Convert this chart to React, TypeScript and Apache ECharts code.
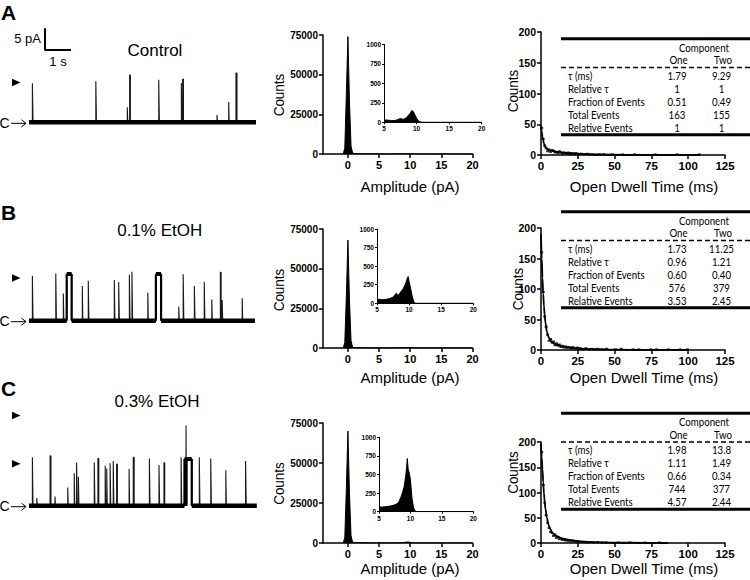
import React, { useEffect, useRef } from "react";
import * as echarts from "echarts";

// ---------------- DATA ----------------
// Single-channel events: [start time (s), amplitude (pA), duration (s)]
const eventsControl = [
  [0.13, 9.0, 0.025], [2.57, 9.5, 0.025], [3.78, 3.5, 0.02], [3.87, 10.9, 0.03],
  [4.99, 9.8, 0.025], [5.86, 9.1, 0.02], [5.91, 10.0, 0.03], [7.23, 1.7, 0.02],
  [7.68, 4.7, 0.02], [7.96, 11.4, 0.04],
];
const eventsEtOH01 = [
  [0.13, 10.4, 0.025], [1.03, 10.9, 0.025], [1.32, 6.3, 0.02], [2.05, 8.0, 0.02],
  [2.28, 9.2, 0.025], [3.28, 9.4, 0.025], [3.45, 8.9, 0.025], [3.86, 10.6, 0.025],
  [3.96, 11.3, 0.025], [4.57, 6.5, 0.02], [5.76, 3.2, 0.02], [5.93, 10.7, 0.025],
  [6.36, 8.0, 0.025], [6.74, 9.0, 0.025], [7.03, 4.9, 0.02], [7.36, 11.2, 0.03],
  [7.43, 4.8, 0.02], [8.2, 5.2, 0.02],
];
const eventsEtOH03 = [
  [0.13, 11.2, 0.025], [0.3, 1.8, 0.02], [0.81, 11.5, 0.035], [1.0, 2.1, 0.02],
  [1.49, 4.2, 0.02], [1.74, 7.5, 0.02], [1.83, 10.0, 0.025], [1.9, 6.7, 0.02],
  [2.51, 10.0, 0.025], [2.65, 10.9, 0.035], [2.93, 9.2, 0.02], [2.99, 8.6, 0.02],
  [3.12, 9.8, 0.025], [3.24, 10.3, 0.025], [3.37, 9.6, 0.03], [3.85, 8.5, 0.02],
  [4.01, 11.2, 0.035], [4.63, 10.9, 0.025], [5.0, 9.4, 0.025], [5.19, 9.9, 0.03],
  [5.85, 11.2, 0.025], [6.04, 18.5, 0.015], [6.55, 11.2, 0.025], [6.99, 10.9, 0.025],
  [7.57, 8.2, 0.02], [8.33, 10.3, 0.025],
];
// Long bursts at the open level: [start (s), amplitude (pA), duration (s)]
const burstsControl: number[][] = [];
const burstsEtOH01 = [[1.45, 10.8, 0.19], [4.88, 10.8, 0.2]];
const burstsEtOH03 = [[5.98, 10.8, 0.055], [6.06, 10.8, 0.2]];
const traceEnds = [8.73, 8.69, 8.76];

// All-points amplitude histograms: [amplitude (pA), counts]
const ampControl = [
  [-0.75, 0], [-0.5, 4000], [-0.25, 38000], [0, 74000], [0.25, 33000], [0.5, 5000], [0.75, 700],
  [1, 250], [2, 90], [3, 60], [4, 45], [5, 30], [5.5, 28], [6, 24], [6.5, 22], [7, 30],
  [7.5, 48], [7.75, 42], [8, 38], [8.5, 62], [8.75, 90], [9, 112], [9.25, 150], [9.5, 138],
  [9.75, 95], [10, 52], [10.25, 24], [10.5, 8], [10.75, 2], [11, 0], [20, 0],
];
const ampEtOH01 = [
  [-0.75, 0], [-0.5, 3500], [-0.25, 33000], [0, 68000], [0.25, 30000], [0.5, 4500], [0.75, 600],
  [1, 250], [2, 110], [3, 80], [4, 65], [5, 55], [5.5, 52], [6, 50], [6.5, 55], [7, 65],
  [7.5, 82], [7.75, 110], [8, 135], [8.25, 105], [8.5, 128], [8.75, 160], [9, 185], [9.25, 225],
  [9.5, 275], [9.75, 345], [9.85, 360], [10, 295], [10.25, 195], [10.5, 90], [10.75, 15], [11, 0], [20, 0],
];
const ampEtOH03 = [
  [-0.75, 0], [-0.5, 3500], [-0.25, 34000], [0, 70000], [0.25, 31000], [0.5, 4500], [0.75, 600],
  [1, 260], [2, 120], [3, 90], [4, 75], [5, 65], [5.5, 62], [6, 67], [6.5, 72], [7, 80],
  [7.5, 92], [8, 112], [8.25, 150], [8.5, 200], [8.75, 262], [9, 338], [9.25, 480], [9.4, 600],
  [9.5, 715], [9.65, 560], [9.8, 530], [10, 430], [10.25, 180], [10.5, 50], [10.75, 10], [11, 0], [20, 0],
];

// Open dwell-time histograms: [time (ms), counts]
const dwellControl = [
  [0.5, 44], [1.5, 26], [2.5, 15], [3.5, 11], [4.5, 6], [5.5, 9], [6.5, 5], [7.5, 8], [8.5, 7],
  [9.5, 4], [10.5, 5], [11.5, 3], [12.5, 6], [13.5, 4], [14.5, 2], [15.5, 4], [16.5, 3], [17.5, 2],
  [18.5, 4], [19.5, 1], [20.5, 3], [21.5, 2], [22.5, 1], [23.5, 3], [24.5, 2], [25.5, 1], [27.5, 2],
  [29.5, 1], [31.5, 2], [33.5, 1], [35.5, 1], [37.5, 0], [39.5, 1], [42.5, 1], [45.5, 0], [48.5, 1],
  [51.5, 0], [55.5, 1], [59.5, 0], [63.5, 1], [67.5, 0], [72.5, 0], [77.5, 1], [82.5, 0], [87.5, 0],
  [92.5, 1], [97.5, 0], [102.5, 0], [107.5, 1],
];
const dwellEtOH01 = [
  [0.5, 160], [1.5, 95], [2.5, 55], [3.5, 38], [4.5, 25], [5.5, 15], [6.5, 18], [7.5, 12], [8.5, 14],
  [9.5, 8], [10.5, 11], [11.5, 7], [12.5, 9], [13.5, 5], [14.5, 7], [15.5, 4], [16.5, 6], [17.5, 3],
  [18.5, 5], [19.5, 4], [20.5, 2], [21.5, 5], [22.5, 3], [23.5, 2], [24.5, 4], [25.5, 2], [26.5, 3],
  [28.5, 1], [30.5, 3], [32.5, 1], [34.5, 2], [36.5, 1], [38.5, 2], [41.5, 1], [44.5, 2], [47.5, 0],
  [50.5, 1], [54.5, 2], [58.5, 0], [62.5, 1], [66.5, 1], [70.5, 0], [74.5, 1], [78.5, 1], [82.5, 0],
  [86.5, 1], [90.5, 0], [94.5, 1], [99.5, 1],
];
const dwellEtOH03 = [
  [0.5, 180], [1.5, 115], [2.5, 80], [3.5, 55], [4.5, 40], [5.5, 30], [6.5, 22], [7.5, 20], [8.5, 14],
  [9.5, 17], [10.5, 10], [11.5, 12], [12.5, 8], [13.5, 9], [14.5, 6], [15.5, 7], [16.5, 5], [17.5, 6],
  [18.5, 4], [19.5, 6], [20.5, 3], [21.5, 5], [22.5, 3], [23.5, 4], [24.5, 2], [25.5, 3], [27.5, 2],
  [29.5, 2], [31.5, 1], [33.5, 2], [35.5, 1], [38.5, 2], [41.5, 1], [44.5, 1], [48.5, 0], [52.5, 1],
  [56.5, 0], [60.5, 1], [65.5, 0], [70.5, 1], [75.5, 0], [80.5, 1], [85.5, 0],
];
// Two-exponential fits: [time (ms), counts]
const fitControl = [
  [0, 48], [0.5, 38], [1, 30], [1.5, 24], [2, 19], [3, 13], [4, 10], [5, 8.5], [7, 7], [10, 5.5],
  [15, 4], [20, 3], [30, 1.5], [40, 0.8], [60, 0.2], [80, 0], [108, 0],
];
const fitEtOH01 = [
  [0, 190], [0.5, 150], [1, 118], [1.5, 92], [2, 72], [2.5, 57], [3, 45], [4, 30], [5, 22], [6, 17],
  [8, 12], [10, 9], [15, 5.5], [20, 3.8], [25, 2.6], [35, 1.2], [50, 0.5], [75, 0.1], [100, 0],
];
const fitEtOH03 = [
  [0, 197], [0.5, 170], [1, 146], [1.5, 120], [2, 98], [2.5, 82], [3, 68], [4, 50], [5, 37], [6, 29],
  [8, 19], [10, 14], [15, 8.5], [20, 5.5], [25, 3.8], [35, 1.8], [50, 0.7], [70, 0.2], [85, 0],
];

// Tables
const tableRows = ["τ (ms)", "Relative τ", "Fraction of Events", "Total Events", "Relative Events"];
const oneControl = ["1.79", "1", "0.51", "163", "1"];
const twoControl = ["9.29", "1", "0.49", "155", "1"];
const oneEtOH01 = ["1.73", "0.96", "0.60", "576", "3.53"];
const twoEtOH01 = ["11.25", "1.21", "0.40", "379", "2.45"];
const oneEtOH03 = ["1.98", "1.11", "0.66", "744", "4.57"];
const twoEtOH03 = ["13.8", "1.49", "0.34", "377", "2.44"];

const conditions = ["Control", "0.1% EtOH", "0.3% EtOH"];
const panelLetters = ["A", "B", "C"];
const histTicks = [0, 5, 10, 15, 20];
const scaleBarAmp = 5; // pA
const scaleBarTime = 1; // s

// ---------------- LAYOUT ----------------
const ARIAL = '"Liberation Sans", Arial, sans-serif';
const CALIBRI = 'Lato, "Noto Sans", "DejaVu Sans", sans-serif';
const TFONT = `10.5px ${CALIBRI}`;
const baselines = [122.3, 320.7, 505.7];
const histTop = [35, 229, 423];
const histH = [119, 119, 120];
const insetBox = [
  { left: 384, top: 44.3, width: 97.7, height: 78 },
  { left: 377, top: 229, width: 96.3, height: 74.3 },
  { left: 379, top: 437.3, width: 94.3, height: 74.4 },
];
const dwellTop = [32, 228, 442];
const dwellH = [123, 122, 101];
const tableTop = [38.8, 211.7, 413.3];
const titleY = [50, 230, 401.7];
const titleX = [155, 159.7, 157];
const letterY = [12, 212.5, 388.5];
const nameY = [186, 377, 568];
const histCountsPos = [[279, 95], [278.5, 290], [278.5, 483.5]];
const dwellCountsPos = [[512.5, 91], [517.5, 289], [512.5, 472.5]];

function measureWidth(text: string, font: string) {
  const ctx = document.createElement("canvas").getContext("2d");
  if (!ctx) return 0;
  ctx.font = font;
  return ctx.measureText(text).width;
}

function buildTrace(events: number[][], bursts: number[][], tEnd: number) {
  const all = [...events, ...bursts].sort((a, b) => a[0] - b[0]);
  const pts: number[][] = [[0, 0]];
  for (const [t, a, d] of all) pts.push([t, 0], [t, a], [t + d, a], [t + d, 0]);
  pts.push([tEnd, 0]);
  return pts;
}
// noisy (thick) segments: closed baseline between bursts, and each burst's open level + edges
function bandSegments(bursts: number[][], tEnd: number) {
  const segs: { pts: number[][]; w: number }[] = [];
  let s = 0;
  for (const [t, a, d] of [...bursts].sort((x, y) => x[0] - y[0])) {
    if (t > s) segs.push({ pts: [[s, 0], [t, 0]], w: 4.5 });
    segs.push({ pts: [[t, a], [t + d, a]], w: 4 });
    segs.push({ pts: [[t, 0], [t, a]], w: 2.2 });
    segs.push({ pts: [[t + d, 0], [t + d, a]], w: 2.2 });
    s = t + d;
  }
  segs.push({ pts: [[s, 0], [tEnd, 0]], w: 4.5 });
  return segs;
}

function buildOption() {
  const events = [eventsControl, eventsEtOH01, eventsEtOH03];
  const bursts = [burstsControl, burstsEtOH01, burstsEtOH03];
  const amps = [ampControl, ampEtOH01, ampEtOH03];
  const dwells = [dwellControl, dwellEtOH01, dwellEtOH03];
  const fits = [fitControl, fitEtOH01, fitEtOH03];
  const ones = [oneControl, oneEtOH01, oneEtOH03];
  const twos = [twoControl, twoEtOH01, twoEtOH03];

  const pxPerPA = 4.33;
  const grid: any[] = [];
  const xAxis: any[] = [];
  const yAxis: any[] = [];
  const series: any[] = [];
  const graphic: any[] = [];

  const axisCommon = (gi: number, lw: number, tickLen: number) => ({
    gridIndex: gi,
    type: "value",
    splitLine: { show: false },
    axisLine: { show: true, onZero: false, lineStyle: { color: "#000", width: lw } },
    axisTick: { show: true, length: tickLen, lineStyle: { color: "#000", width: lw } },
  });
  const lbl = (size: number, margin: number) => ({
    color: "#000", fontFamily: ARIAL, fontWeight: "bold", fontSize: size, margin,
    formatter: (v: number) => String(v),
  });

  // traces: grid 0..2
  for (let i = 0; i < 3; i++) {
    grid.push({ left: 29, top: baselines[i] - 23.5 * pxPerPA, width: 227.5, height: 25.5 * pxPerPA });
    xAxis.push({ gridIndex: i, type: "value", min: 0, max: 8.75, show: false });
    yAxis.push({ gridIndex: i, type: "value", min: -2, max: 23.5, show: false });
    series.push({
      type: "line", xAxisIndex: i, yAxisIndex: i, data: buildTrace(events[i], bursts[i], traceEnds[i]),
      showSymbol: false, symbol: "none", lineStyle: { color: "#1a1a1a", width: 1.1 }, silent: true,
    });
    for (const seg of bandSegments(bursts[i], traceEnds[i])) {
      series.push({
        type: "line", xAxisIndex: i, yAxisIndex: i, data: seg.pts, symbol: "none",
        lineStyle: { color: "#000", width: seg.w }, silent: true,
      });
    }
  }
  // scale bar in trace A coordinates
  const sbT = 0.615, sbA = 16.7;
  series.push({
    type: "line", xAxisIndex: 0, yAxisIndex: 0, symbol: "none", silent: true,
    data: [[sbT, sbA + scaleBarAmp], [sbT, sbA], [sbT + scaleBarTime, sbA]],
    lineStyle: { color: "#000", width: 2 },
  });

  // main amplitude histograms: grid 3..5
  for (let i = 0; i < 3; i++) {
    const gi = 3 + i;
    grid.push({ left: 323, top: histTop[i], width: 149.5, height: histH[i] });
    xAxis.push({
      ...axisCommon(gi, 1.5, 4), min: -4, max: 20,
      axisTick: { show: true, length: 4, customValues: histTicks, lineStyle: { color: "#000", width: 1.5 } },
      axisLabel: { ...lbl(11, 5), customValues: histTicks },
    });
    yAxis.push({ ...axisCommon(gi, 1.5, 4), min: 0, max: 75000, interval: 25000, axisLabel: lbl(10, 5) });
    series.push({
      type: "line", xAxisIndex: gi, yAxisIndex: gi, data: amps[i], symbol: "none",
      lineStyle: { color: "#000", width: 1 }, areaStyle: { color: "#000", opacity: 1 }, silent: true,
    });
  }
  // insets: grid 6..8
  for (let i = 0; i < 3; i++) {
    const gi = 6 + i;
    grid.push(insetBox[i]);
    xAxis.push({ ...axisCommon(gi, 1, 2), min: 5, max: 20, interval: 5, axisLabel: lbl(6.5, 3) });
    yAxis.push({ ...axisCommon(gi, 1, 2), min: 0, max: 1000, interval: 250, axisLabel: lbl(6.5, 3) });
    series.push({
      type: "line", xAxisIndex: gi, yAxisIndex: gi, data: amps[i].filter((d) => d[0] >= 5),
      symbol: "none", lineStyle: { color: "#000", width: 1 }, areaStyle: { color: "#000", opacity: 1 }, silent: true,
    });
  }
  // dwell histograms: grid 9..11
  for (let i = 0; i < 3; i++) {
    const gi = 9 + i;
    grid.push({ left: 541, top: dwellTop[i], width: 184, height: dwellH[i] });
    xAxis.push({ ...axisCommon(gi, 1.5, 4), min: 0, max: 125, interval: 25, axisLabel: lbl(11.5, 5) });
    yAxis.push({ ...axisCommon(gi, 1.5, 4), min: 0, max: 200, interval: 50, axisLabel: lbl(10.5, 5) });
    series.push({
      type: "scatter", xAxisIndex: gi, yAxisIndex: gi, data: dwells[i], symbol: "rect",
      symbolSize: [3, 2], itemStyle: { color: "#000" }, silent: true,
    });
    series.push({
      type: "line", xAxisIndex: gi, yAxisIndex: gi, data: fits[i], symbol: "none", smooth: 0.3,
      smoothMonotone: "x", lineStyle: { color: "#000", width: 1.8 }, silent: true,
    });
  }

  // ---------- graphic texts / decorations ----------
  const txt = (text: string, x: number, y: number, font: string, align = "center", extra: any = {}) => ({
    type: "text", x, y, silent: true, ...extra,
    style: { text, font, fill: "#000", textAlign: align, textVerticalAlign: "middle" },
  });
  // calibrate table text width to the reference ("Fraction of Events" ≈ 77 px wide)
  const mw = measureWidth("Fraction of Events", TFONT);
  const tScale = mw > 0 ? Math.min(1.4, Math.max(0.7, 77 / mw)) : 1;
  const sq = { scaleX: tScale };
  for (let i = 0; i < 3; i++) {
    graphic.push(txt(panelLetters[i], 8.5, letterY[i], `bold 21px ${ARIAL}`));
    graphic.push(txt(conditions[i], titleX[i], titleY[i], `17px ${ARIAL}`));
    graphic.push(txt("Amplitude (pA)", 410, nameY[i], `15px ${ARIAL}`));
    graphic.push(txt("Open Dwell Time (ms)", 644, nameY[i], `15px ${ARIAL}`));
    graphic.push(txt("Counts", histCountsPos[i][0], histCountsPos[i][1], `15px ${ARIAL}`, "center", { rotation: Math.PI / 2, scaleX: 0.9 }));
    graphic.push(txt("Counts", dwellCountsPos[i][0], dwellCountsPos[i][1], `15px ${ARIAL}`, "center", { rotation: Math.PI / 2, scaleX: 0.9 }));
    // C -> closed level marker
    const b = baselines[i];
    graphic.push(txt("C", 4.5, b + 0.5, `14px ${ARIAL}`));
    graphic.push({ type: "line", silent: true, shape: { x1: 11, y1: b + 1, x2: 26, y2: b + 1 }, style: { stroke: "#000", lineWidth: 1 } });
    graphic.push({ type: "polyline", silent: true, shape: { points: [[21.5, b - 2.5], [26, b + 1], [21.5, b + 4.5]] }, style: { stroke: "#000", lineWidth: 1, fill: null } });

    // table
    const T = tableTop[i];
    graphic.push({ type: "line", silent: true, shape: { x1: 561, y1: T, x2: 750, y2: T }, style: { stroke: "#000", lineWidth: 3 } });
    graphic.push(txt("Component", 704, T + 8.8, TFONT, "center", sq));
    graphic.push(txt("One", 678.5, T + 21.5, TFONT, "center", sq));
    graphic.push(txt("Two", 723, T + 21.5, TFONT, "center", sq));
    graphic.push({ type: "line", silent: true, shape: { x1: 561, y1: T + 28.8, x2: 750, y2: T + 28.8 }, style: { stroke: "#000", lineWidth: 1.5, lineDash: [5, 3] } });
    tableRows.forEach((r, k) => {
      const y = T + 36.8 + 13.05 * k;
      graphic.push(txt(r, 568, y, TFONT, "left", sq));
      graphic.push(txt(ones[i][k], 677, y, TFONT, "center", sq));
      graphic.push(txt(twos[i][k], 721.5, y, TFONT, "center", sq));
    });
    graphic.push({ type: "line", silent: true, shape: { x1: 561, y1: T + 96, x2: 750, y2: T + 96 }, style: { stroke: "#000", lineWidth: 3 } });
  }
  // open-level arrowheads
  const heads = [82.5, 278, 415.5, 463.7];
  for (const y of heads) {
    graphic.push({ type: "polygon", silent: true, shape: { points: [[12, y - 3.7], [20.5, y], [12, y + 3.7]] }, style: { fill: "#000" } });
  }
  // scale bar labels
  graphic.push(txt(`${scaleBarAmp} pA`, 41, 38, `13px ${ARIAL}`, "right"));
  graphic.push(txt(`${scaleBarTime} s`, 58, 61, `13px ${ARIAL}`));

  return { animation: false, backgroundColor: "#fff", grid, xAxis, yAxis, series, graphic };
}

export default function App() {
  const ref = useRef<HTMLDivElement>(null);
  useEffect(() => {
    const chart = echarts.init(ref.current!, null, { renderer: "svg" });
    chart.setOption(buildOption() as any);
    return () => chart.dispose();
  }, []);
  return (
    <div
      ref={ref}
      style={{ position: "fixed", left: 0, top: 0, width: 750, height: 580, background: "#fff" }}
    />
  );
}
